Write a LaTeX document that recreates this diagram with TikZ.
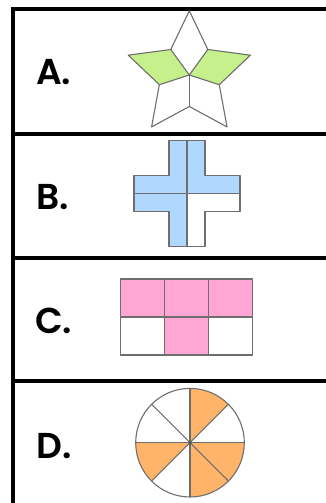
\documentclass[tikz,border=0pt]{standalone}
\usepackage{fontspec}
\usetikzlibrary{calc}
\newfontfamily\labfont{Poppins}[UprightFont=* SemiBold]
\definecolor{framec}{HTML}{000000}
\definecolor{edgec}{HTML}{6E6E6E}
\definecolor{greenc}{HTML}{C6F08C}
\definecolor{bluec}{HTML}{B0D8FF}
\definecolor{pinkc}{HTML}{FFA6D4}
\definecolor{orangec}{HTML}{FFB46A}
\tikzset{
  frameline/.style={line width=4pt, draw=framec},
  shapeedge/.style={line width=1.1pt, draw=edgec, line join=round},
  lab/.style={anchor=base west, inner sep=0pt, font=\labfont\fontsize{36}{40}\selectfont}
}
\begin{document}
\begin{tikzpicture}[x=1pt,y=1pt]
\useasboundingbox (0,0) rectangle (326,503);
\begin{scope}
\clip (0,0) rectangle (326,503);
% table frame
\draw[frameline] (12.5,-10) -- (12.5,493.5) -- (340,493.5);
\draw[frameline] (12.5,368.5) -- (340,368.5);
\draw[frameline] (12.5,245) -- (340,245);
\draw[frameline] (12.5,122) -- (340,122);
\end{scope}
% labels
\node[lab] (la) at (36,418.7) {A.};
\node[lab] (lb) at (36,293) {B.};
\node[lab] (lc) at (35,169.5) {C.};
\node[lab] (ld) at (36,44.7) {D.};
% ---- A: star
\coordinate (sc) at (189.3,428);
\foreach \k in {0,...,4}{
  \pgfmathsetmacro{\a}{90+72*\k}
  \coordinate (t\k) at ($(sc)+(\a:64.2)$);
  \coordinate (i\k) at ($(sc)+(\a+36:31.5)$);
}
\fill[greenc] (sc) -- (i0) -- (t1) -- (i1) -- cycle;
\fill[greenc] (sc) -- (i4) -- (t4) -- (i3) -- cycle;
\draw[shapeedge] (t0) -- (i0) -- (t1) -- (i1) -- (t2) -- (i2) -- (t3) -- (i3) -- (t4) -- (i4) -- cycle;
\foreach \k in {0,...,4}{ \draw[shapeedge] (sc) -- (i\k); }
% ---- B: cross
\coordinate (cc) at (187,309.5);
\fill[bluec] ($(cc)+(-18,53)$) -- ($(cc)+(18,53)$) -- ($(cc)+(18,18)$) -- ($(cc)+(53,18)$) -- ($(cc)+(53,0)$) -- ($(cc)+(0,0)$) -- ($(cc)+(0,-53)$) -- ($(cc)+(-18,-53)$) -- ($(cc)+(-18,-18)$) -- ($(cc)+(-53,-18)$) -- ($(cc)+(-53,18)$) -- ($(cc)+(-18,18)$) -- cycle;
\draw[shapeedge] ($(cc)+(-18,53)$) -- ($(cc)+(18,53)$) -- ($(cc)+(18,18)$) -- ($(cc)+(53,18)$) -- ($(cc)+(53,-18)$) -- ($(cc)+(18,-18)$) -- ($(cc)+(18,-53)$) -- ($(cc)+(-18,-53)$) -- ($(cc)+(-18,-18)$) -- ($(cc)+(-53,-18)$) -- ($(cc)+(-53,18)$) -- ($(cc)+(-18,18)$) -- cycle;
\draw[shapeedge] ($(cc)+(0,53)$) -- ($(cc)+(0,-53)$);
\draw[shapeedge] ($(cc)+(-53,0)$) -- ($(cc)+(53,0)$);
% ---- C: grid
\fill[pinkc] (120.7,186) rectangle (252.3,224);
\fill[pinkc] (164.3,148) rectangle (208.3,186);
\draw[shapeedge] (120.7,148) rectangle (252.3,224);
\draw[shapeedge] (164.3,148) -- (164.3,224);
\draw[shapeedge] (208.3,148) -- (208.3,224);
\draw[shapeedge] (120.7,186) -- (252.3,186);
% ---- D: circle
\coordinate (dc) at (190,60.3);
\fill[orangec] (dc) -- ++(45:54.3) arc[start angle=45,end angle=90,radius=54.3] -- cycle;
\fill[orangec] (dc) -- ++(180:54.3) arc[start angle=180,end angle=225,radius=54.3] -- cycle;
\fill[orangec] (dc) -- ++(270:54.3) arc[start angle=270,end angle=360,radius=54.3] -- cycle;
\draw[shapeedge] (dc) circle[radius=54.3];
\foreach \a in {0,45,90,135}{ \draw[shapeedge] ($(dc)+(\a:54.3)$) -- ($(dc)+(\a+180:54.3)$); }
\fill[black!70] (dc) circle[radius=1.5];
\end{tikzpicture}
\end{document}
